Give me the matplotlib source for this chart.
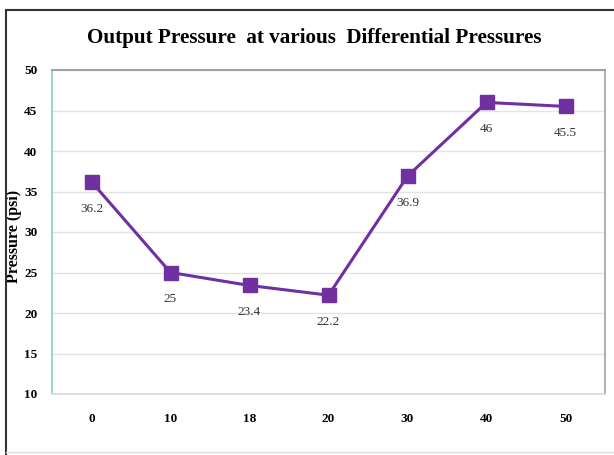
import matplotlib
matplotlib.use("Agg")
import matplotlib.pyplot as plt
from matplotlib.lines import Line2D

categories = ["0", "10", "18", "20", "30", "40", "50"]
pressure = [36.2, 25, 23.4, 22.2, 36.9, 46, 45.5]
y_ticks = [10, 15, 20, 25, 30, 35, 40, 45, 50]

W, H = 614, 455
fig = plt.figure(figsize=(W / 100, H / 100), dpi=100)
fig.patch.set_facecolor("white")

ax = fig.add_axes([52 / W, (H - 394) / H, (605 - 52) / W, (394 - 70) / H])
serif = ["Liberation Serif", "DejaVu Serif"]
purple = "#7030A0"

x = list(range(len(categories)))
ax.plot(x, pressure, color=purple, linewidth=2.2, marker="s", markersize=10,
        markerfacecolor=purple, markeredgecolor=purple, zorder=3)

for xi, v in zip(x, pressure):
    ax.annotate(f"{v:g}", (xi, v), xytext=(0, -15), textcoords="offset points",
                ha="center", va="top", fontsize=9.5, family=serif, color="#333333")

ax.set_xlim(-0.5, len(categories) - 0.5)
ax.set_ylim(10, 50)
ax.set_yticks(y_ticks)
ax.set_xticks(x)
ax.set_xticklabels(categories)
ax.grid(axis="y", color="#e3e3e3", linewidth=1)
ax.set_axisbelow(True)
ax.tick_params(length=0, labelsize=9.5)
for lab in ax.get_xticklabels() + ax.get_yticklabels():
    lab.set_family(serif)
    lab.set_fontweight("bold")
ax.tick_params(axis="x", pad=14)
ax.tick_params(axis="y", pad=10.5)

ax.spines["left"].set_color("#8fd6c0")
ax.spines["top"].set_color("#9a9a9a")
ax.spines["right"].set_color("#a8a8a8")
ax.spines["bottom"].set_color("#dcdcdc")
for s in ax.spines.values():
    s.set_linewidth(1.3)

ax.set_ylabel("Pressure (psi)", family=serif, fontweight="bold", fontsize=11.5)
ax.yaxis.set_label_coords(-0.054, 0.485)

fig.text(314 / W, 1 - 38 / H, "Output Pressure  at various  Differential Pressures",
         ha="center", va="center", family=serif, fontweight="bold", fontsize=15.2)

# frame around the figure
fig.add_artist(Line2D([5.5 / W, 1], [1 - 9.5 / H, 1 - 9.5 / H], transform=fig.transFigure,
                      color="#333333", linewidth=1.5))
fig.add_artist(Line2D([5.5 / W, 5.5 / W], [0, 1 - 9.5 / H], transform=fig.transFigure,
                      color="#333333", linewidth=1.5))
fig.add_artist(Line2D([5.5 / W, 1], [3 / H, 3 / H], transform=fig.transFigure,
                      color="#dddddd", linewidth=1))

fig.savefig("out.png", dpi=100)
